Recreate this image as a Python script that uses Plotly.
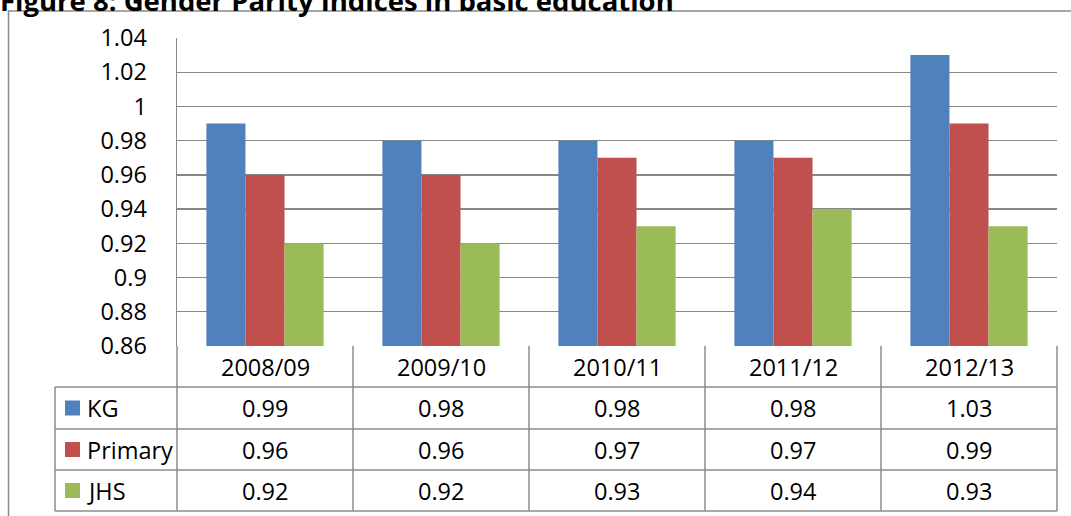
import plotly.graph_objects as go

# ---- data ----
years = ["2008/09", "2009/10", "2010/11", "2011/12", "2012/13"]
series_names = ["KG", "Primary", "JHS"]
kg = [0.99, 0.98, 0.98, 0.98, 1.03]
primary = [0.96, 0.96, 0.97, 0.97, 0.99]
jhs = [0.92, 0.92, 0.93, 0.94, 0.93]
y_tickvals = [0.86, 0.88, 0.90, 0.92, 0.94, 0.96, 0.98, 1.00, 1.02, 1.04]
y_ticktext = ["0.86", "0.88", "0.9", "0.92", "0.94", "0.96", "0.98", "1", "1.02", "1.04"]
title_text = "Figure 8: Gender Parity Indices in basic education"

colors = ["#4F81BD", "#C0504D", "#9BBB59"]
values = [kg, primary, jhs]

# ---- layout constants (pixels) ----
W, H = 1071, 516
ML, MR, MT, MB = 177, 14, 38, 170
PW = W - ML - MR
PH = H - MT - MB
FONT = "Open Sans"
FS = 23.5
GRID = "#878787"


def px(x):
    return (x - ML) / PW


def py(y):
    return (H - MB - y) / PH


fig = go.Figure()
for name, vals, col in zip(series_names, values, colors):
    fig.add_trace(go.Bar(x=years, y=vals, name=name, marker_color=col,
                         marker_line_width=0, showlegend=False, hoverinfo="skip"))

shapes = []
annotations = []

# table geometry
row_bounds = [346, 387, 429, 470, 511]
row_centers = [(row_bounds[i] + row_bounds[i + 1]) / 2 for i in range(4)]
left_col = 55
line = dict(color="#8c8c8c", width=1.5)

# horizontal table lines
for rb in row_bounds[1:]:
    shapes.append(dict(type="line", xref="paper", yref="paper", x0=px(left_col), x1=1,
                       y0=py(rb), y1=py(rb), line=line))
# vertical table lines
for i in range(len(years) + 1):
    xv = i / len(years)
    shapes.append(dict(type="line", xref="paper", yref="paper", x0=xv, x1=xv,
                       y0=py(row_bounds[0]), y1=py(row_bounds[-1]), line=line))
shapes.append(dict(type="line", xref="paper", yref="paper", x0=px(left_col), x1=px(left_col),
                   y0=py(row_bounds[1]), y1=py(row_bounds[-1]), line=line))

# outer chart frame
shapes.append(dict(type="rect", xref="paper", yref="paper", x0=px(8.5), x1=px(1090),
                   y0=py(540), y1=py(11), line=dict(color="#8a8a8a", width=1.5),
                   fillcolor="rgba(0,0,0,0)", layer="below"))

# header row
for i, yr in enumerate(years):
    annotations.append(dict(x=(i + 0.5) / len(years), y=py(row_centers[0]), xref="paper", yref="paper",
                            text=yr, showarrow=False, xanchor="center", yanchor="middle",
                            font=dict(family=FONT, size=FS, color="black")))
# data rows
for r, (name, vals, col) in enumerate(zip(series_names, values, colors)):
    yc = py(row_centers[r + 1])
    for i, v in enumerate(vals):
        annotations.append(dict(x=(i + 0.5) / len(years), y=yc, xref="paper", yref="paper",
                                text=f"{v:.2f}", showarrow=False, xanchor="center", yanchor="middle",
                                font=dict(family=FONT, size=FS, color="black")))
    shapes.append(dict(type="rect", xref="paper", yref="paper", x0=px(65), x1=px(80),
                       y0=py(row_centers[r + 1] + 7.5), y1=py(row_centers[r + 1] - 7.5),
                       fillcolor=col, line=dict(width=0)))
    annotations.append(dict(x=px(85), y=yc, xref="paper", yref="paper", text=name,
                            showarrow=False, xanchor="left", yanchor="middle",
                            font=dict(family=FONT, size=FS, color="black")))

# title (partially cut off at top, as in the source)
annotations.append(dict(x=px(-2), y=py(21), xref="paper", yref="paper", text=f"<b>{title_text}</b>",
                        showarrow=False, xanchor="left", yanchor="bottom",
                        font=dict(family=FONT, size=27.5, color="black")))

fig.update_layout(
    width=W, height=H,
    margin=dict(l=ML, r=MR, t=MT, b=MB, pad=0),
    paper_bgcolor="white", plot_bgcolor="white",
    barmode="group", bargap=0.334, bargroupgap=0,
    hovermode=False,
    font=dict(family=FONT, size=FS, color="black"),
    xaxis=dict(showticklabels=False, showgrid=False, ticks="", showline=False,
               zeroline=False, range=[-0.5, 4.5]),
    yaxis=dict(range=[0.86, 1.04], tickvals=y_tickvals, ticktext=y_ticktext,
               showgrid=True, gridcolor=GRID, gridwidth=1.4, zeroline=False,
               showline=True, linecolor=GRID, linewidth=1.4, ticks="",
               ticklabelstandoff=24, tickfont=dict(family=FONT, size=FS, color="black")),
    shapes=shapes, annotations=annotations,
)

fig.write_html("out.html", config={"displayModeBar": False, "staticPlot": True},
               post_script="document.body.style.margin='0';document.body.style.overflow='hidden';")
